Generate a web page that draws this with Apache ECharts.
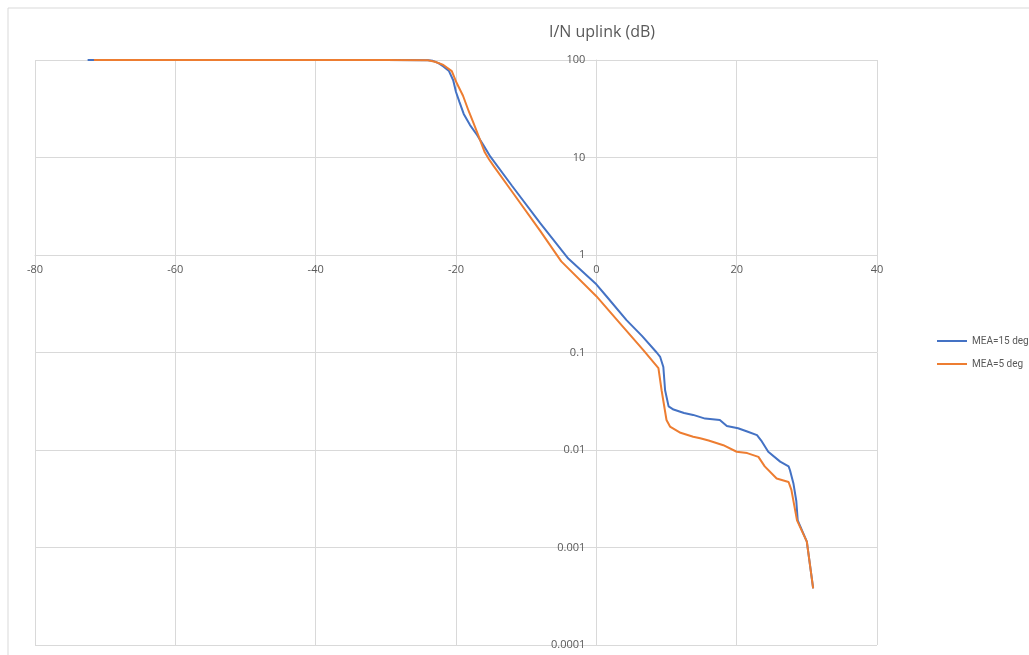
<!DOCTYPE html>
<html>
<head>
<meta charset="utf-8">
<script src="https://cdn.jsdelivr.net/npm/echarts@6/dist/echarts.min.js"></script>
<style>
  html, body { margin: 0; padding: 0; background: #fff; }
  #chart { width: 1029px; height: 655px; }
</style>
</head>
<body>
<div id="chart"></div>
<script>
// I/N uplink (dB) vs. percentage of time, log y axis
const seriesNames = ['MEA=15 deg', 'MEA=5 deg'];
const xTicks = [-80, -60, -40, -20, 0, 20, 40];

// [I/N dB, %]
const mea15 = [
    [-72.5, 100], [-30, 100], [-24, 99.5], [-23.3, 98], [-22.5, 93], [-21.8, 86],
    [-21.0, 77], [-20.4, 62], [-20.0, 47], [-19.5, 37], [-18.9, 28], [-18.0, 21.5],
    [-17.0, 17], [-16.1, 13.4], [-15.1, 10.2], [-12, 5.1], [-8, 2.12], [-4, 0.92],
    [0, 0.5], [1.5, 0.373], [4.3, 0.215], [6.5, 0.148], [8.6, 0.1], [9.1, 0.09],
    [9.55, 0.071], [9.8, 0.041], [10.3, 0.028], [11, 0.026], [12.5, 0.024], [13.8, 0.0229],
    [15.5, 0.021], [17.6, 0.0203], [18.6, 0.0176], [20.2, 0.0167], [21.5, 0.0155],
    [22.9, 0.0142], [23.5, 0.0125], [24.5, 0.0096], [26.2, 0.0076], [27.4, 0.0068],
    [27.6, 0.0062], [28.1, 0.0045], [28.5, 0.003], [28.7, 0.0019], [30.0, 0.00115], [30.9, 0.00038]
];

const mea5 = [
    [-71.6, 100], [-30, 100], [-24, 99.5], [-23, 96], [-21.8, 89], [-20.6, 77],
    [-19.9, 58], [-19.0, 43], [-18.2, 30], [-17.5, 22.5], [-16.7, 16], [-15.9, 11.3],
    [-15.3, 9.6], [-14.6, 8.1], [-12, 4.45], [-8, 1.77], [-5, 0.86], [0, 0.378],
    [3, 0.214], [6.7, 0.106], [8.85, 0.069], [9.3, 0.041], [10.0, 0.0203], [10.5, 0.0174],
    [12, 0.015], [13.8, 0.0137], [14.8, 0.0132], [16, 0.0125], [18.1, 0.0112], [20.0, 0.0096],
    [21.5, 0.0093], [23.1, 0.0085], [24.0, 0.0068], [25.7, 0.0051], [27.4, 0.0047],
    [27.8, 0.0039], [28.6, 0.0019], [30.0, 0.00115], [30.9, 0.00038]
];

const colors = ['#4472C4', '#ED7D31'];
const gridLeft = 35, gridRight = 152, gridTop = 60, gridBottom = 10;
const plotWidth = 1029 - gridLeft - gridRight;
const plotHeight = 655 - gridTop - gridBottom;

const chart = echarts.init(document.getElementById('chart'));

chart.setOption({
    animation: false,
    color: colors,
    textStyle: { fontFamily: 'Open Sans', color: '#595959' },
    title: {
        text: 'I/N uplink (dB)',
        left: 597,
        textAlign: 'center',
        top: 19,
        textStyle: { fontSize: 16, fontWeight: 'normal', color: '#595959', fontFamily: 'Open Sans' }
    },
    graphic: [{
        type: 'rect',
        shape: { x: 8, y: 8, width: 1100, height: 700 },
        style: { fill: 'none', stroke: '#d9d9d9', lineWidth: 1 },
        silent: true
    }],
    legend: {
        orient: 'vertical',
        left: 937,
        top: 336,
        padding: 0,
        itemGap: 13,
        itemWidth: 30,
        itemHeight: 2,
        icon: 'rect',
        textStyle: { fontSize: 10, color: '#595959', fontFamily: 'Roboto' },
        data: seriesNames
    },
    grid: {
        left: gridLeft, right: gridRight, top: gridTop, bottom: gridBottom,
        containLabel: false,
        outerBoundsMode: 'none'
    },
    xAxis: {
        type: 'value',
        min: xTicks[0],
        max: xTicks[xTicks.length - 1],
        interval: 20,
        position: 'bottom',
        offset: -plotHeight * 4 / 6,
        axisLine: { onZero: false, lineStyle: { color: '#d9d9d9' } },
        axisTick: { show: false },
        axisLabel: { fontSize: 11, color: '#595959', margin: 9 },
        splitLine: { lineStyle: { color: '#d9d9d9' } }
    },
    yAxis: {
        type: 'log',
        logBase: 10,
        min: 0.0001,
        max: 100,
        position: 'left',
        offset: -plotWidth * 80 / 120,
        axisLine: { show: true, onZero: false, lineStyle: { color: '#d9d9d9' } },
        axisTick: { show: false },
        axisLabel: {
            fontSize: 11,
            color: '#595959',
            margin: 11,
            formatter: v => String(v)
        },
        splitLine: { lineStyle: { color: '#d9d9d9' } }
    },
    series: [
        {
            name: seriesNames[0],
            type: 'line',
            data: mea15,
            showSymbol: false,
            lineStyle: { width: 2 },
            z: 2
        },
        {
            name: seriesNames[1],
            type: 'line',
            data: mea5,
            showSymbol: false,
            lineStyle: { width: 2 },
            z: 3
        }
    ]
});

window.addEventListener('resize', () => chart.resize());
</script>
</body>
</html>
